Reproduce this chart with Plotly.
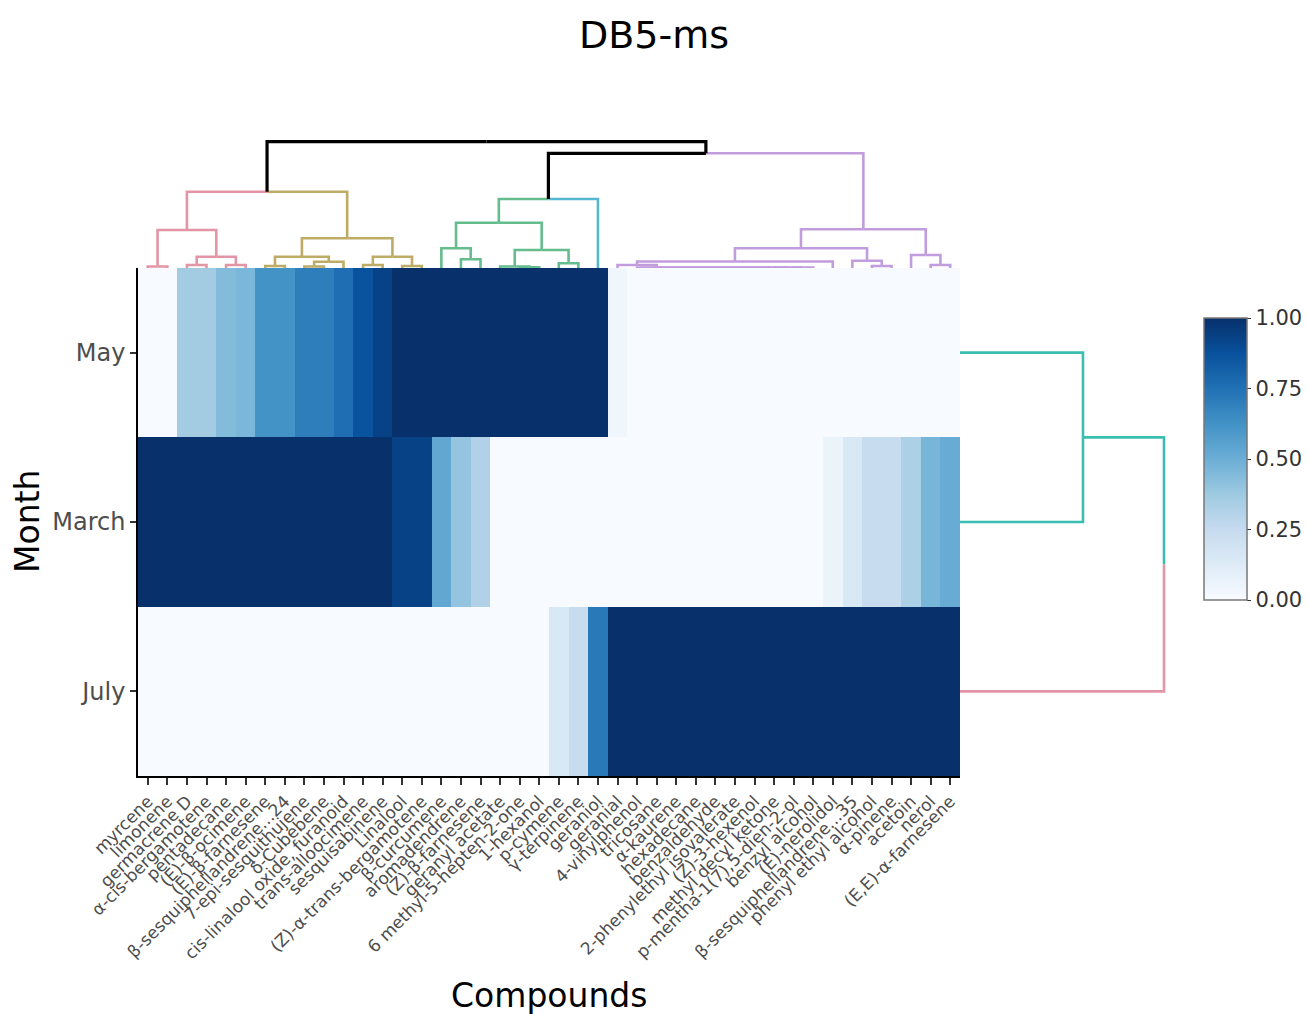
import plotly.graph_objects as go

# ---------------- data ----------------
compounds = [
    "myrcene", "limonene", "germacrene D", "α-cis-bergamotene", "pentadecane",
    "(E)-β-ocimene", "(E)-β-farnesene", "β-sesquiphellandrene...24", "7-epi-sesquithujene",
    "δ-Cubebene", "cis-linalool oxide, furanoid", "trans-alloocimene", "sesquisabinene",
    "Linalool", "(Z)-α-trans-bergamotene", "β-curcumene", "aromadendrene",
    "(Z)-β-farnesene", "geranyl acetate", "6 methyl-5-hepten-2-one", "1-hexanol",
    "p-cymene", "γ-terpinene", "geraniol", "geranial", "4-vinylphenol", "tricosane",
    "α-kaurene", "hexadecane", "benzaldehyde", "2-phenylethyl isovalerate",
    "(Z)-3-hexenol", "methyl decyl ketone", "p-mentha-1(7),5-dien-2-ol",
    "benzyl alcohol", "(E)-nerolidol", "β-sesquiphellandrene...35",
    "phenyl ethyl alcohol", "α-pinene", "acetoin", "nerol", "(E,E)-α-farnesene",
]

row_labels = ["July", "March", "May"]          # bottom -> top

may = [0, 0, 0.36, 0.36, 0.44, 0.46, 0.62, 0.62, 0.70, 0.70, 0.76, 0.87, 0.93,
       1, 1, 1, 1, 1, 1, 1, 1, 1, 1, 1,
       0.04,
       0, 0, 0, 0, 0, 0, 0, 0, 0, 0, 0, 0, 0, 0, 0, 0, 0]
march = [1, 1, 1, 1, 1, 1, 1, 1, 1, 1, 1, 1, 1,
         0.93, 0.93, 0.53, 0.40, 0.32,
         0, 0, 0, 0, 0, 0, 0, 0, 0, 0, 0, 0, 0, 0, 0, 0, 0,
         0.06, 0.15, 0.24, 0.24, 0.33, 0.47, 0.51]
july = [0, 0, 0, 0, 0, 0, 0, 0, 0, 0, 0, 0, 0, 0, 0, 0, 0, 0, 0, 0, 0,
        0.15, 0.24, 0.72,
        1, 1, 1, 1, 1, 1, 1, 1, 1, 1, 1, 1, 1, 1, 1, 1, 1, 1]

# column dendrogram: (merge height, left, right); leaves = 1-based column numbers
pink_branch = (38, (1.5, 1, 2), (11.3, (3, 3, 4), (3, 5, 6)))
gold_branch = (29.7, (11.3, (2, 7, 8), (6.3, (1.5, 9, 10), 11)),
               (11.3, (3, 12, 13), (2, 14, 15)))
green_branch = (45.3, (19.7, 16, (8.7, 17, 18)),
                (18, (1.5, 19, (0.7, 20, 21)), (4.7, 22, 23)))
flat_branch = (0.5, 26, (0.5, 27, (0.5, 28, (0.5, 29, (0.5, 30, (0.5, 31,
               (0.5, 32, (0.5, 33, (0.5, 34, 35)))))))))
purple_branch = (38.7, (19.7, (6.5, (3, 25, flat_branch), 36), (7.3, 37, (2, 38, 39))),
                 (13, 40, (3, 41, 42)))
col_tree = (126.3, (76.3, pink_branch, gold_branch),
            (114.7, (69, green_branch, 24), purple_branch))

col_clusters = [0, 0, 0, 0, 0, 0, 1, 1, 1, 1, 1, 1, 1, 1, 1,
                2, 2, 2, 2, 2, 2, 2, 2, 3,
                4, 4, 4, 4, 4, 4, 4, 4, 4, 4, 4, 4, 4, 4, 4, 4, 4, 4]
col_colors = ["#E495A5", "#BDAB66", "#65BC8C", "#55B8D0", "#C29DDE"]

# row dendrogram; leaves = row labels
row_tree = (204, "July", (123, "March", "May"))
row_clusters = {"May": 0, "March": 0, "July": 1}
row_colors = ["#39BEB1", "#E495A5"]

blues = ["rgb(247,251,255)", "rgb(222,235,247)", "rgb(198,219,239)", "rgb(158,202,225)",
         "rgb(107,174,214)", "rgb(66,146,198)", "rgb(33,113,181)", "rgb(8,81,156)",
         "rgb(8,48,107)"]

# ---------------- helpers ----------------
def tree_leaves(t):
    if not isinstance(t, tuple):
        return [t]
    return tree_leaves(t[1]) + tree_leaves(t[2])


def build_segments(t, pos, cluster_of, colors, segs):
    if not isinstance(t, tuple):
        return pos[t], 0.0
    h, a, b = t
    ca, ha = build_segments(a, pos, cluster_of, colors, segs)
    cb, hb = build_segments(b, pos, cluster_of, colors, segs)
    c = (ca + cb) / 2
    for cc, ch, sub in ((ca, ha, a), (cb, hb, b)):
        ids = {cluster_of[l] for l in tree_leaves(sub)}
        col = colors[ids.pop()] if len(ids) == 1 else "black"
        segs.setdefault(col, []).append([(c, h), (cc, h), (cc, ch)])
    return c, h


W, H = 1308, 1014
hm_x = [138 / W, 960 / W]
hm_y = [1 - 776 / H, 1 - 268 / H]

fig = go.Figure()

fig.add_trace(go.Heatmap(
    z=[july, march, may],
    x=list(range(len(compounds))),
    y=list(range(len(row_labels))),
    colorscale=[[i / 8, c] for i, c in enumerate(blues)],
    zmin=0, zmax=1,
    colorbar=dict(
        x=1204 / W, xanchor="left", y=1 - 459 / H, yanchor="middle",
        xpad=0, ypad=0,
        len=282 / H, lenmode="fraction", thickness=43,
        outlinewidth=1.5, outlinecolor="#777777",
        tickvals=[0, 0.25, 0.5, 0.75, 1], tickformat=".2f",
        ticks="outside", ticklen=4, tickcolor="#333333",
        tickfont=dict(family="DejaVu Sans", size=21, color="#333333"),
    ),
    hoverinfo="skip",
))

# top (column) dendrogram
col_pos = {i + 1: i for i in range(len(compounds))}
col_cluster_of = {i + 1: col_clusters[i] for i in range(len(compounds))}
segs = {}
build_segments(col_tree, col_pos, col_cluster_of, col_colors, segs)
for color, lst in segs.items():
    xs, ys = [], []
    for seg in lst:
        for (px, py) in seg:
            xs.append(px)
            ys.append(py)
        xs.append(None)
        ys.append(None)
    fig.add_trace(go.Scatter(x=xs, y=ys, mode="lines", xaxis="x2", yaxis="y2",
                             line=dict(color=color, width=3.2 if color == "black" else 2.6),
                             hoverinfo="skip", showlegend=False, cliponaxis=False))

# right (row) dendrogram
row_pos = {lab: i for i, lab in enumerate(row_labels)}
rsegs = {}
build_segments(row_tree, row_pos, row_clusters, row_colors, rsegs)
for color, lst in rsegs.items():
    xs, ys = [], []
    for seg in lst:
        for (pp, hh) in seg:
            xs.append(hh)
            ys.append(pp)
        xs.append(None)
        ys.append(None)
    fig.add_trace(go.Scatter(x=xs, y=ys, mode="lines", xaxis="x3", yaxis="y3",
                             line=dict(color=color, width=2.6),
                             hoverinfo="skip", showlegend=False, cliponaxis=False))

hidden = dict(showgrid=False, zeroline=False, showticklabels=False, showline=False,
              ticks="", automargin=False)

fig.update_layout(
    width=W, height=H,
    margin=dict(l=0, r=0, t=0, b=0, autoexpand=False),
    paper_bgcolor="white", plot_bgcolor="white",
    showlegend=False,
    font=dict(family="DejaVu Sans"),
    title=dict(text="DB5-ms", x=0.5, xanchor="center", y=1 - 35 / H, yanchor="middle",
               font=dict(family="DejaVu Sans", size=38, color="black")),
    xaxis=dict(domain=hm_x, range=[-0.5, len(compounds) - 0.5], anchor="y",
               tickmode="array", tickvals=list(range(len(compounds))), ticktext=compounds,
               tickangle=-45, tickfont=dict(family="DejaVu Sans", size=17, color="#4D4D4D"),
               ticks="outside", ticklen=7, tickwidth=1.5, tickcolor="#333333",
               showline=True, linecolor="black", linewidth=1.5,
               showgrid=False, zeroline=False, automargin=False),
    yaxis=dict(domain=hm_y, range=[-0.5, len(row_labels) - 0.5], anchor="x",
               tickmode="array", tickvals=list(range(len(row_labels))), ticktext=row_labels,
               tickfont=dict(family="DejaVu Sans", size=24, color="#4D4D4D"),
               ticks="outside", ticklen=6, tickwidth=1.5, tickcolor="#333333",
               showline=True, linecolor="black", linewidth=1.5,
               showgrid=False, zeroline=False, automargin=False),
    xaxis2=dict(domain=hm_x, range=[-0.5, len(compounds) - 0.5], anchor="y2", **hidden),
    yaxis2=dict(domain=[1 - 268 / H, 1 - 135 / H], range=[0, 133], anchor="x2", **hidden),
    xaxis3=dict(domain=[960 / W, 1175 / W], range=[0, 215], anchor="y3", **hidden),
    yaxis3=dict(domain=hm_y, range=[-0.5, len(row_labels) - 0.5], anchor="x3", **hidden),
    annotations=[
        dict(text="Compounds", x=549 / W, y=1 - 995 / H, xref="paper", yref="paper",
             xanchor="center", yanchor="middle", showarrow=False,
             font=dict(family="DejaVu Sans", size=33, color="black")),
        dict(text="Month", x=27 / W, y=1 - 522 / H, xref="paper", yref="paper",
             xanchor="center", yanchor="middle", showarrow=False, textangle=-90,
             font=dict(family="DejaVu Sans", size=33, color="black")),
    ],
)

fig.write_html("out.html", config={"displayModeBar": False},
               post_script="document.body.style.margin='0';document.body.style.overflow='hidden';")
